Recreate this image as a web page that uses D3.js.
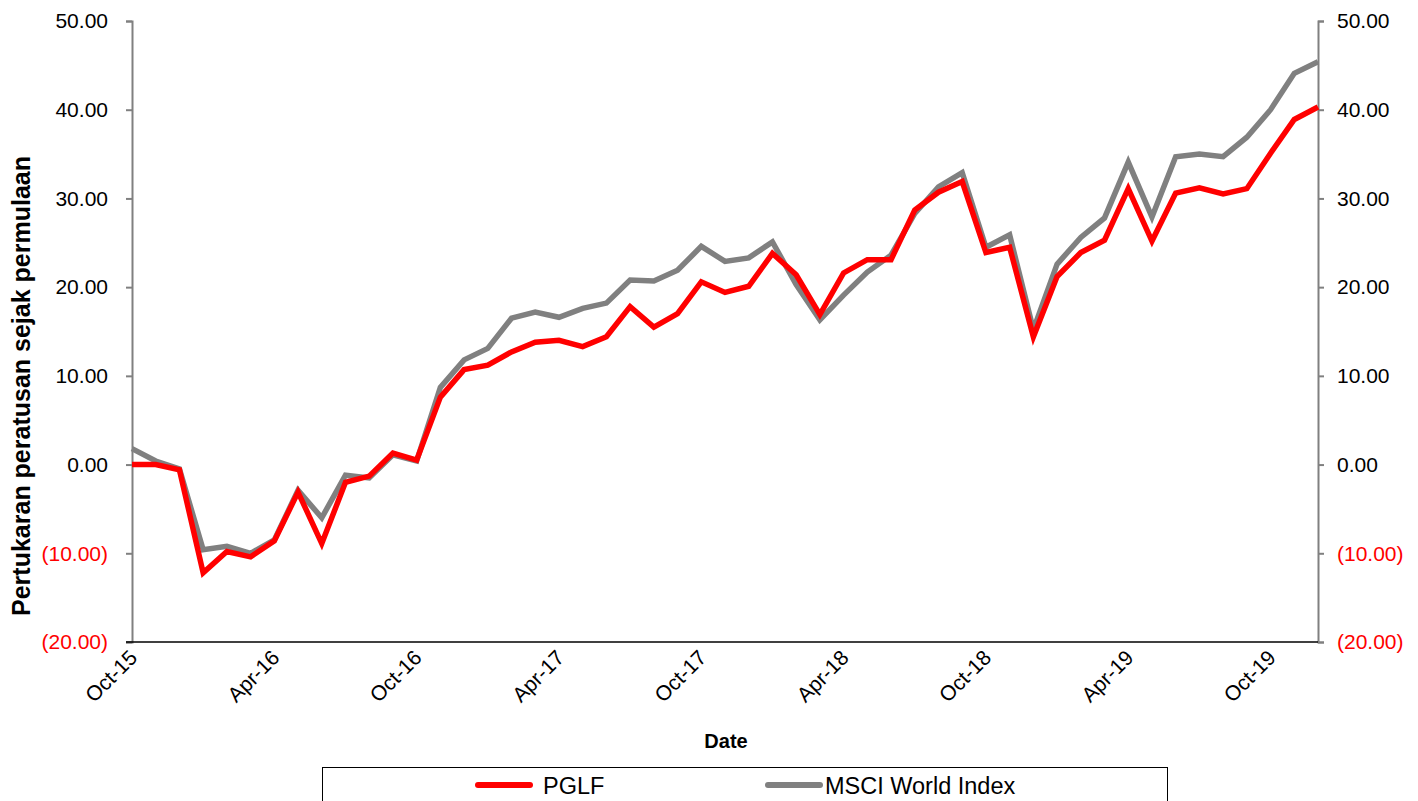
<!DOCTYPE html>
<html>
<head>
<meta charset="utf-8">
<script src="https://cdn.jsdelivr.net/npm/d3@7"></script>
<style>
  body { margin: 0; background: #fff; }
  svg { display: block; font-family: "Liberation Sans", Arial, sans-serif; }
</style>
</head>
<body>
<div id="chart"></div>
<script>
// monthly points, Oct-15 .. Dec-19
const months = ["Oct-15","Nov-15","Dec-15","Jan-16","Feb-16","Mar-16","Apr-16","May-16","Jun-16","Jul-16","Aug-16","Sep-16",
  "Oct-16","Nov-16","Dec-16","Jan-17","Feb-17","Mar-17","Apr-17","May-17","Jun-17","Jul-17","Aug-17","Sep-17",
  "Oct-17","Nov-17","Dec-17","Jan-18","Feb-18","Mar-18","Apr-18","May-18","Jun-18","Jul-18","Aug-18","Sep-18",
  "Oct-18","Nov-18","Dec-18","Jan-19","Feb-19","Mar-19","Apr-19","May-19","Jun-19","Jul-19","Aug-19","Sep-19",
  "Oct-19","Nov-19","Dec-19"];

const pglf = [0.0, 0.0, -0.6, -12.2, -9.8, -10.4, -8.6, -3.1, -8.9, -2.0, -1.3, 1.3,
  0.5, 7.6, 10.7, 11.2, 12.7, 13.8, 14.0, 13.3, 14.4, 17.8, 15.5, 17.0,
  20.6, 19.4, 20.1, 23.8, 21.4, 16.9, 21.6, 23.1, 23.1, 28.7, 30.7, 31.9,
  23.9, 24.5, 14.4, 21.2, 23.9, 25.3, 31.1, 25.2, 30.6, 31.2, 30.5, 31.1,
  35.1, 38.9, 40.3];

const msci = [1.8, 0.4, -0.5, -9.6, -9.2, -10.0, -8.5, -2.9, -6.0, -1.2, -1.5, 1.1,
  0.4, 8.7, 11.8, 13.1, 16.5, 17.2, 16.6, 17.6, 18.2, 20.8, 20.7, 21.9,
  24.6, 22.9, 23.3, 25.1, 20.3, 16.3, 19.1, 21.7, 23.6, 28.3, 31.3, 32.9,
  24.5, 25.9, 15.2, 22.6, 25.6, 27.8, 34.1, 27.9, 34.7, 35.0, 34.7, 36.9,
  40.0, 44.1, 45.4];

const yTicks = [-20, -10, 0, 10, 20, 30, 40, 50];
const xTicks = ["Oct-15","Apr-16","Oct-16","Apr-17","Oct-17","Apr-18","Oct-18","Apr-19","Oct-19"];

const series = [
  {name: "PGLF", values: pglf, color: "#ff0000"},
  {name: "MSCI World Index", values: msci, color: "#808080"}
];

const W = 1418, H = 801;
const margin = {top: 21, right: 100, bottom: 159, left: 132};
const width = W - margin.left - margin.right, height = H - margin.top - margin.bottom;

const svg = d3.select("#chart").append("svg")
    .attr("width", W)
    .attr("height", H);

const g = svg.append("g")
    .attr("transform", `translate(${margin.left},${margin.top})`);

const x = d3.scalePoint()
    .domain(months)
    .range([0, width]);

const y = d3.scaleLinear()
    .domain([-20, 50])
    .range([height, 0]);

const fmt = v => v < 0 ? `(${Math.abs(v).toFixed(2)})` : v.toFixed(2);

//left axis
const yl = g.append("g")
    .call(d3.axisLeft(y).tickValues(yTicks).tickFormat(fmt).tickSize(6).tickPadding(18));
//right axis
const yr = g.append("g")
    .attr("transform", `translate(${width},0)`)
    .call(d3.axisRight(y).tickValues(yTicks).tickFormat(fmt).tickSize(6).tickPadding(13));

[yl, yr].forEach(ax => {
    ax.select(".domain").attr("stroke", "#808080").attr("stroke-width", 2);
    ax.selectAll(".tick line").attr("stroke", "#808080").attr("stroke-width", 2);
    ax.selectAll(".tick text")
        .attr("font-size", "21px")
        .attr("font-family", "Liberation Sans, Arial, sans-serif")
        .attr("fill", d => d < 0 ? "#ff0000" : "#000");
});

//x axis
const xa = g.append("g")
    .attr("transform", `translate(0,${height})`)
    .call(d3.axisBottom(x).tickValues(xTicks).tickSize(0));
xa.select(".domain").attr("stroke", "#000").attr("stroke-width", 1.5).attr("d", `M-6,0H${width}`);
xa.selectAll(".tick text")
    .attr("font-size", "21px")
    .attr("font-family", "Liberation Sans, Arial, sans-serif")
    .attr("fill", "#000")
    .attr("text-anchor", "end")
    .attr("dy", null)
    .attr("y", 0)
    .attr("transform", "translate(6,17) rotate(-45)");

//lines
const line = d3.line()
    .x((d, i) => x(months[i]))
    .y(d => y(d));

series.slice().reverse().forEach(s => {
    g.append("path")
        .datum(s.values)
        .attr("fill", "none")
        .attr("stroke", s.color)
        .attr("stroke-width", 5.5)
        .attr("stroke-linejoin", "miter")
        .attr("d", line);
});

//axis titles
svg.append("text")
    .attr("x", 726)
    .attr("y", 748)
    .attr("text-anchor", "middle")
    .attr("font-size", "20px")
    .attr("font-weight", "bold")
    .text("Date");

svg.append("text")
    .attr("transform", "translate(30,386) rotate(-90)")
    .attr("text-anchor", "middle")
    .attr("font-size", "25px")
    .attr("font-weight", "bold")
    .text("Pertukaran peratusan sejak permulaan");

//legend
const legend = svg.append("g");
legend.append("rect")
    .attr("x", 322.5)
    .attr("y", 767.5)
    .attr("width", 845)
    .attr("height", 50)
    .attr("fill", "#fff")
    .attr("stroke", "#000")
    .attr("stroke-width", 1);

const legendPos = [478, 768];
series.forEach((s, i) => {
    legend.append("line")
        .attr("x1", legendPos[i])
        .attr("x2", legendPos[i] + 52)
        .attr("y1", 785)
        .attr("y2", 785)
        .attr("stroke", s.color)
        .attr("stroke-width", 6)
        .attr("stroke-linecap", "round");
    legend.append("text")
        .attr("x", legendPos[i] + (i === 0 ? 65 : 57))
        .attr("y", 794)
        .attr("font-size", "23.5px")
        .attr("fill", "#000")
        .text(s.name);
});
</script>
</body>
</html>
